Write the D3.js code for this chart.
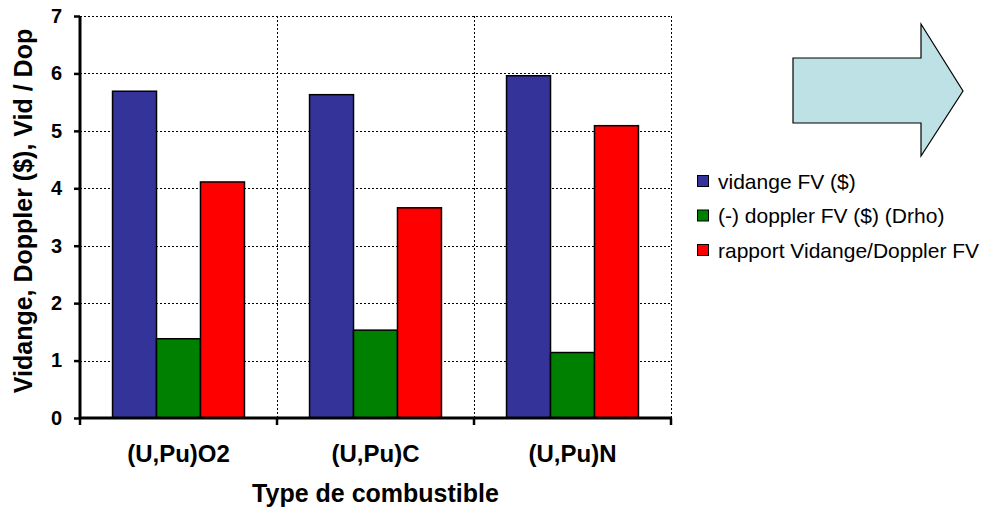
<!DOCTYPE html>
<html>
<head>
<meta charset="utf-8">
<script src="https://cdn.jsdelivr.net/npm/d3@7"></script>
<style>
body { margin: 0; background: #fff; }
text { font-family: "Liberation Sans", Arial, sans-serif; }
</style>
</head>
<body>
<div id="chart"></div>
<script>
var categories = ["(U,Pu)O2", "(U,Pu)C", "(U,Pu)N"];
var seriesNames = ["vidange FV ($)", "(-) doppler FV ($) (Drho)", "rapport Vidange/Doppler FV"];
var vidange = [5.69, 5.63, 5.96];
var doppler = [1.38, 1.53, 1.14];
var rapport = [4.11, 3.66, 5.09];
var colors = ["#333399", "#008000", "#ff0000"];
var yTicks = [0, 1, 2, 3, 4, 5, 6, 7];

(function() {
var width = 989, height = 509;
var pLeft = 80, pRight = 671, pTop = 16, pBottom = 418;

var svg = d3.select("#chart").append("svg")
  .attr("width", width)
  .attr("height", height);

var x = d3.scaleBand().domain(categories).range([pLeft, pRight]).paddingInner(0).paddingOuter(0);
var xs = d3.scaleBand().domain(d3.range(3)).range([0, x.bandwidth()]).paddingOuter(0.74).paddingInner(0);
var y = d3.scaleLinear().domain([0, 7]).range([pBottom, pTop]);

// gridlines
var grid = svg.append("g");
grid.selectAll(".hg").data(yTicks.slice(1)).enter().append("line")
  .attr("x1", pLeft).attr("x2", pRight)
  .attr("y1", function(d) { return Math.round(y(d)) + 0.5; })
  .attr("y2", function(d) { return Math.round(y(d)) + 0.5; })
  .attr("stroke", "#000").attr("stroke-dasharray", "2,2");
var vLines = categories.slice(1).map(function(c) { return x(c); }).concat([pRight]);
grid.selectAll(".vg").data(vLines).enter().append("line")
  .attr("x1", function(d) { return Math.round(d) + 0.5; })
  .attr("x2", function(d) { return Math.round(d) + 0.5; })
  .attr("y1", pTop).attr("y2", pBottom)
  .attr("stroke", "#000").attr("stroke-dasharray", "2,2");

// bars
var rows = categories.map(function(c, i) {
  return { cat: c, vals: [vidange[i], doppler[i], rapport[i]] };
});
var groups = svg.selectAll(".grp").data(rows).enter().append("g")
  .attr("transform", function(d) { return "translate(" + x(d.cat) + ",0)"; });
groups.selectAll("rect").data(function(d) { return d.vals; }).enter().append("rect")
  .attr("x", function(d, i) { return xs(i); })
  .attr("width", xs.bandwidth())
  .attr("y", function(d) { return y(d); })
  .attr("height", function(d) { return pBottom - y(d); })
  .attr("fill", function(d, i) { return colors[i]; })
  .attr("stroke", "#000")
  .attr("stroke-width", 1.5);

// axes
var yAxis = svg.append("g")
  .attr("transform", "translate(" + pLeft + ",0)")
  .call(d3.axisLeft(y).tickValues(yTicks).tickSize(6).tickPadding(12).tickFormat(d3.format("d")));
yAxis.select(".domain").attr("stroke-width", 3).attr("d", "M0," + pTop + "V" + pBottom);
yAxis.selectAll(".tick line").attr("stroke-width", 2.5);
yAxis.selectAll("text").attr("font-size", 20).attr("font-weight", "bold").attr("fill", "#000")
  .style("font-family", "Liberation Sans, Arial, sans-serif");

var xAxis = svg.append("g")
  .attr("transform", "translate(0," + pBottom + ")")
  .call(d3.axisBottom(x).tickSize(0).tickPadding(27));
xAxis.select(".domain").attr("stroke-width", 3).attr("d", "M" + pLeft + ",0H" + pRight);
xAxis.selectAll("text").attr("font-size", 24).attr("font-weight", "bold").attr("fill", "#000")
  .style("font-family", "Liberation Sans, Arial, sans-serif");
xAxis.selectAll(".bt").data([pLeft].concat(vLines)).enter().append("line")
  .attr("x1", function(d) { return d; }).attr("x2", function(d) { return d; })
  .attr("y1", 0).attr("y2", 7)
  .attr("stroke", "#000").attr("stroke-width", 2.5);

// titles
svg.append("text")
  .attr("transform", "translate(32,211) rotate(-90)")
  .attr("text-anchor", "middle")
  .attr("font-size", 25).attr("font-weight", "bold")
  .text("Vidange, Doppler ($), Vid / Dop");
svg.append("text")
  .attr("x", (pLeft + pRight) / 2).attr("y", 502)
  .attr("text-anchor", "middle")
  .attr("font-size", 25).attr("font-weight", "bold")
  .text("Type de combustible");

// arrow
var arrow = [[793, 58], [921, 58], [921, 24], [963, 91], [921, 156], [921, 123], [793, 123]];
svg.append("path")
  .attr("d", d3.line()(arrow) + "Z")
  .attr("fill", "#bde1e4")
  .attr("stroke", "#000")
  .attr("stroke-width", 1.2);

// legend
var legend = svg.selectAll(".leg").data(seriesNames).enter().append("g")
  .attr("transform", function(d, i) { return "translate(697," + (181 + i * 34.5) + ")"; });
legend.append("rect")
  .attr("x", 0.5).attr("y", -5.5).attr("width", 11).attr("height", 11)
  .attr("fill", function(d, i) { return colors[i]; })
  .attr("stroke", "#000");
legend.append("text")
  .attr("x", 21).attr("y", 7.5)
  .attr("font-size", 21)
  .text(function(d) { return d; });
})();
</script>
</body>
</html>
